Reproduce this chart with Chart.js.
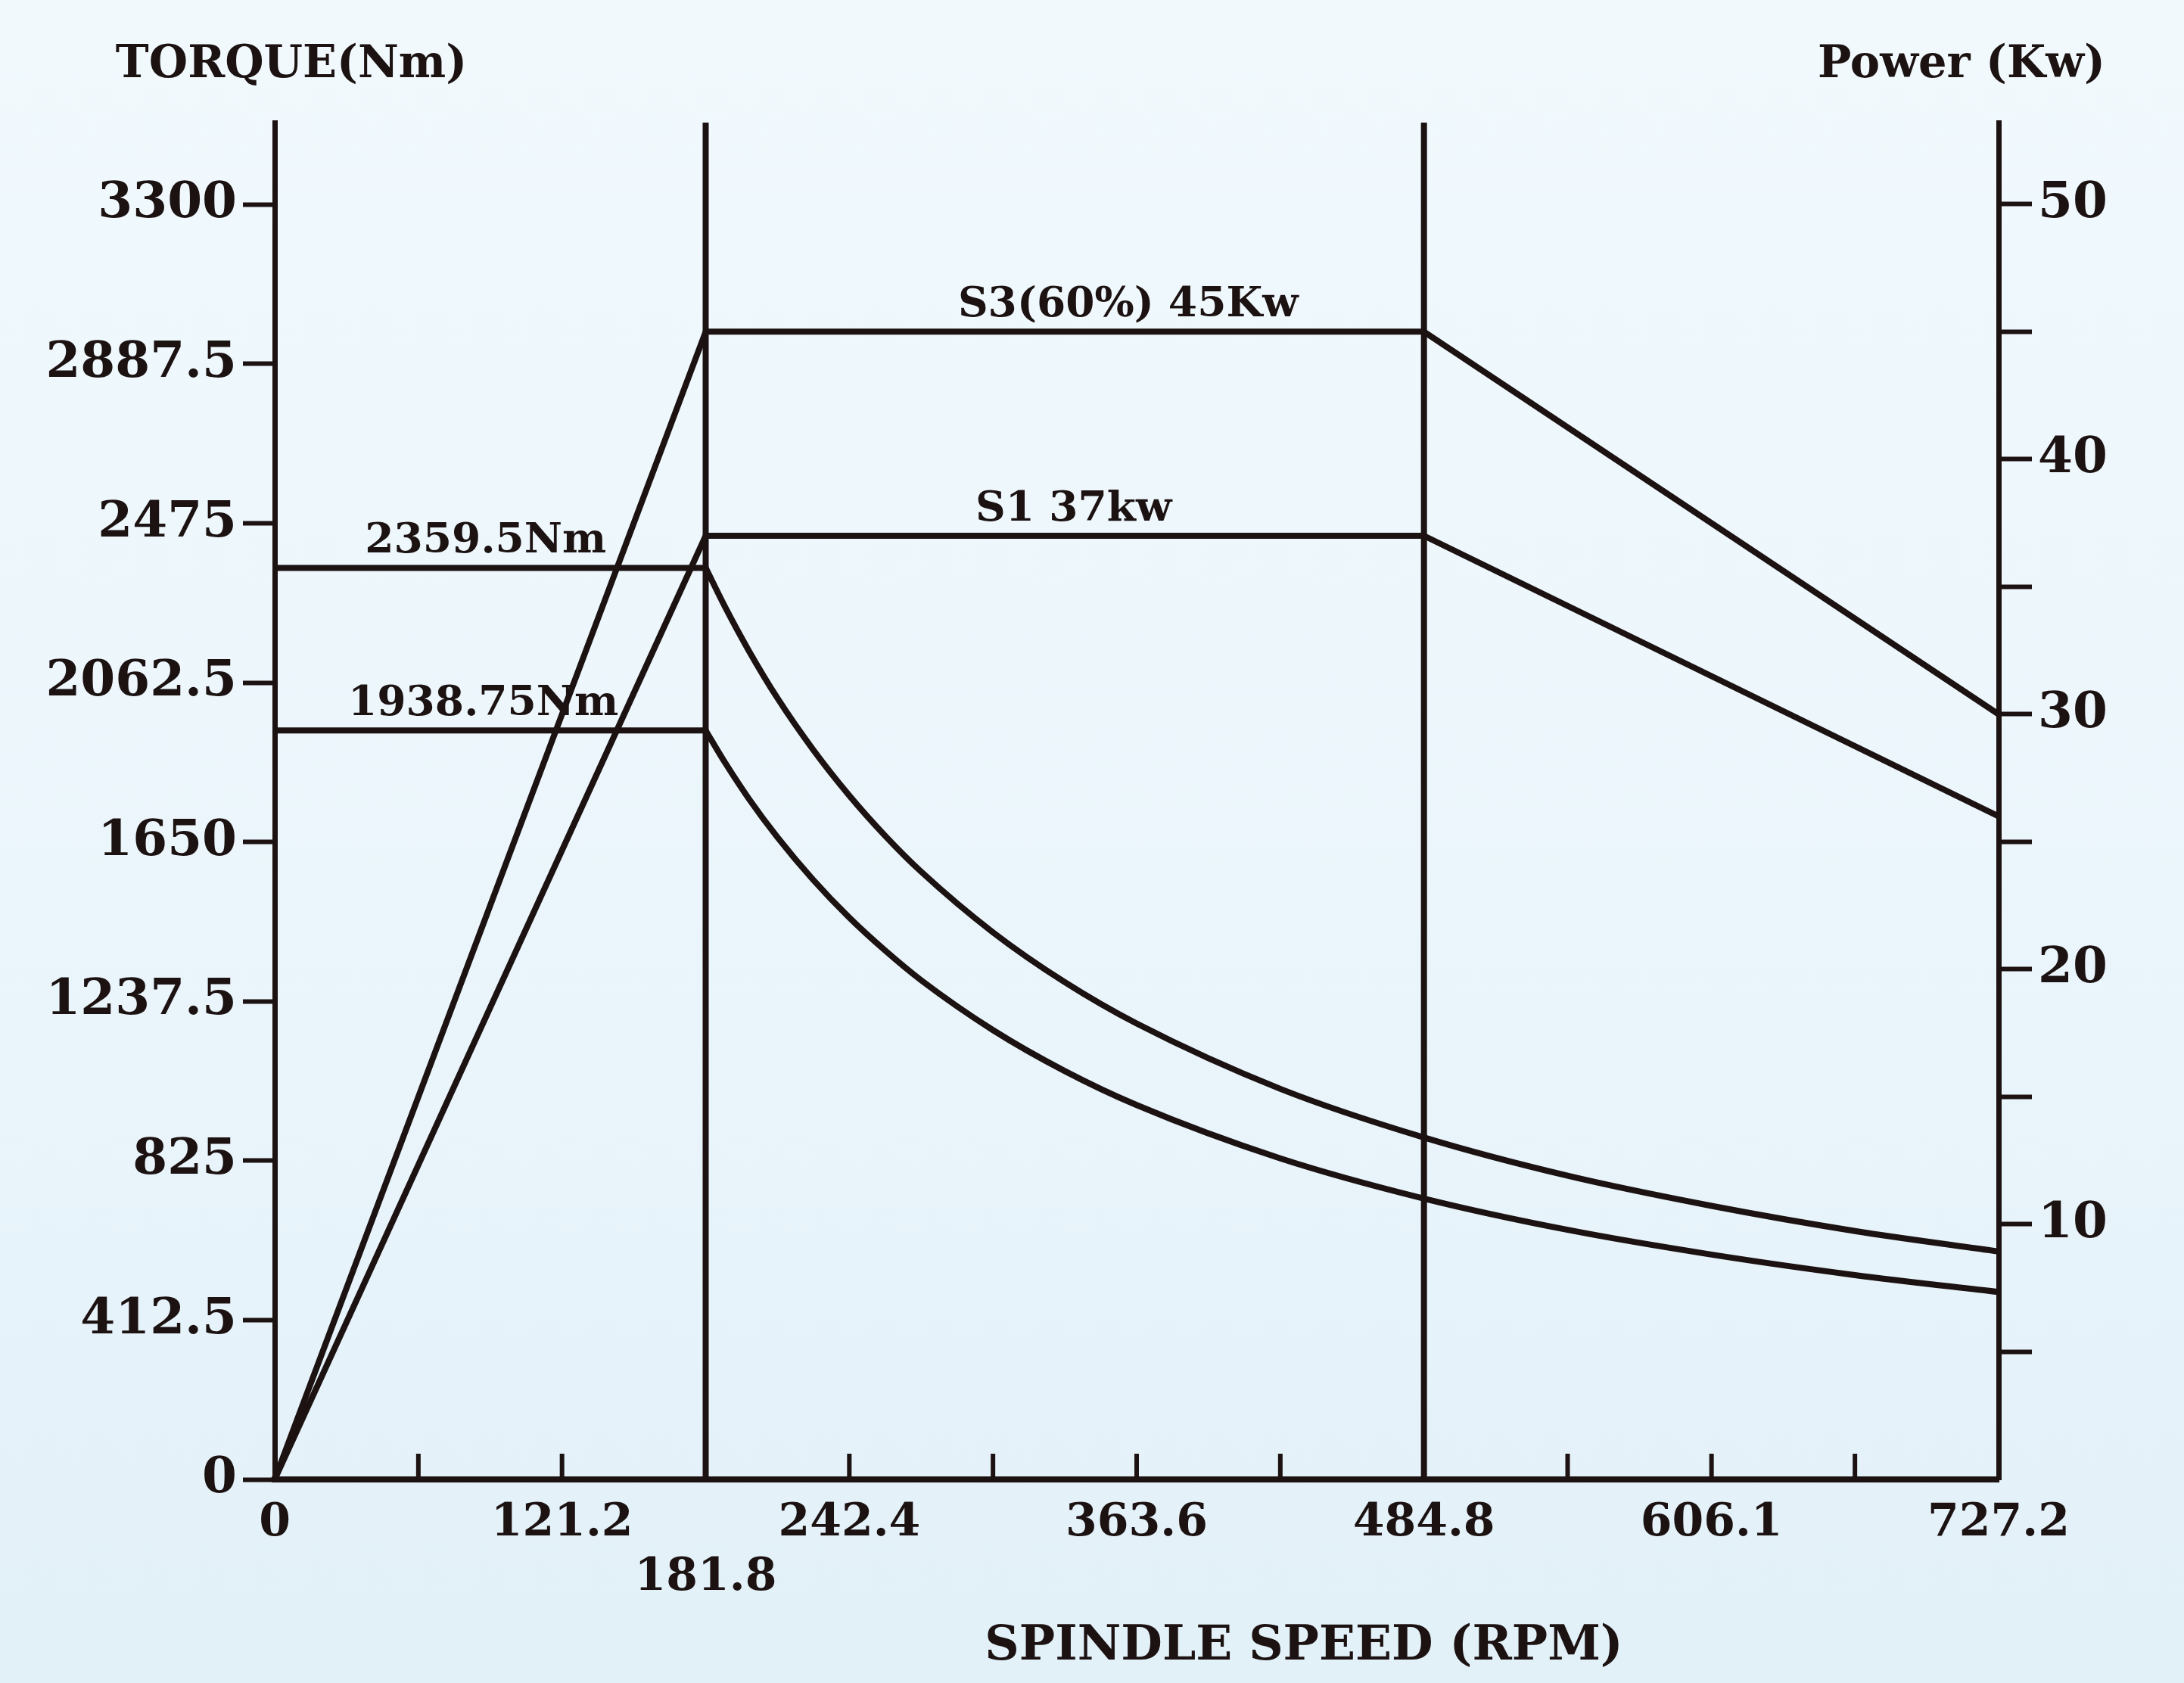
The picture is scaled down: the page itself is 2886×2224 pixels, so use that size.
<!DOCTYPE html>
<html>
<head>
<meta charset="utf-8">
<script src="https://cdn.jsdelivr.net/npm/chart.js@4.4.0/dist/chart.umd.min.js"></script>
<style>
html, body { margin: 0; padding: 0; }
body { width: 2886px; height: 2224px; background: linear-gradient(180deg, #f1f9fd 0%, #eaf5fb 60%, #e2f0f8 100%); }
canvas { display: block; }
</style>
</head>
<body>
<canvas id="torqueChart" width="2886" height="2224"></canvas>
<script>
// axis ticks
var speedTicks = [0, 60.6, 121.2, 181.8, 242.4, 303, 363.6, 424.2, 484.8, 545.4, 606.1, 666.6, 727.2];
var speedLabels = ['0', '', '121.2', ['', '181.8'], '242.4', '', '363.6', '', '484.8', '', '606.1', '', '727.2'];
var torqueTicks = [0, 412.5, 825, 1237.5, 1650, 2062.5, 2475, 2887.5, 3300];
var torqueLabels = ['0', '412.5', '825', '1237.5', '1650', '2062.5', '2475', '2887.5', '3300'];
var powerTicks = [5, 10, 15, 20, 25, 30, 35, 40, 45, 50];
var powerLabels = ['', '10', '', '20', '', '30', '', '40', '', '50'];
var torqueMax = 3512;
var powerMax = 53.2;

// power curves (kW)
var powerSpeed = [0, 181.8, 484.8, 727.2];
var powerS3 = [0, 45, 45, 30];
var powerS1 = [0, 37, 37, 26];

// torque curves (Nm)
var flatSpeed = [0, 181.8];
var torqueS3Flat = [2359.5, 2359.5];
var torqueS1Flat = [1938.75, 1938.75];
var curveSpeed = [181.8, 190, 200, 212.1, 227, 242.4, 257.5, 272.7, 303, 333.3, 363.6, 424.2, 484.8, 545.4, 606.1, 666.6, 727.2];
var torqueS3Curve = [2359.5, 2258, 2145, 2022, 1890, 1770, 1666, 1573, 1416, 1287, 1180, 1011, 885, 786, 708, 643, 590];
var torqueS1Curve = [1938.75, 1855, 1762, 1662, 1553, 1454, 1369, 1292, 1163, 1057, 969, 831, 727, 646, 582, 529, 485];

// vertical marker lines
var markerSpeed = [181.8, 484.8];

// notes over the lines
var notes = ['S3(60%) 45Kw', 'S1 37kw', '2359.5Nm', '1938.75Nm'];
var noteSpeed = [360, 337, 89, 88];
var noteValue = [45, 37, 2359.5, 1938.75];
var noteAxis = ['y1', 'y1', 'y', 'y'];

var ink = '#1c1212';
var font = '"DejaVu Serif", serif';

function toPoints(xs, ys) {
    return xs.map(function (x, i) { return { x: x, y: ys[i] }; });
}

function lineSet(data, axis, tension) {
    return {
        data: data,
        yAxisID: axis,
        borderColor: ink,
        borderWidth: 8,
        pointRadius: 0,
        fill: false,
        tension: tension || 0,
        cubicInterpolationMode: tension ? 'monotone' : 'default',
        borderCapStyle: 'round',
        borderJoinStyle: 'round'
    };
}

var datasets = [
    lineSet(toPoints(powerSpeed, powerS3), 'y1'),
    lineSet(toPoints(powerSpeed, powerS1), 'y1'),
    lineSet(toPoints(flatSpeed, torqueS3Flat), 'y'),
    lineSet(toPoints(flatSpeed, torqueS1Flat), 'y'),
    lineSet(toPoints(curveSpeed, torqueS3Curve), 'y', 0.4),
    lineSet(toPoints(curveSpeed, torqueS1Curve), 'y', 0.4)
];
markerSpeed.forEach(function (s) {
    datasets.push(lineSet([{ x: s, y: 0 }, { x: s, y: torqueMax }], 'y'));
});

var overlay = {
    id: 'overlay',
    afterDatasetsDraw: function (chart) {
        var ctx = chart.ctx;
        var xs = chart.scales.x;
        var area = chart.chartArea;
        ctx.save();
        // inward ticks on the speed axis
        ctx.strokeStyle = ink;
        ctx.lineWidth = 6;
        speedTicks.forEach(function (v) {
            var px = xs.getPixelForValue(v);
            ctx.beginPath();
            ctx.moveTo(px, area.bottom);
            ctx.lineTo(px, area.bottom - 34);
            ctx.stroke();
        });
        ctx.fillStyle = ink;
        ctx.textAlign = 'center';
        ctx.textBaseline = 'alphabetic';
        ctx.font = 'bold 55px ' + font;
        notes.forEach(function (t, i) {
            var sc = chart.scales[noteAxis[i]];
            ctx.fillText(t, xs.getPixelForValue(noteSpeed[i]), sc.getPixelForValue(noteValue[i]) - 20);
        });
        ctx.textBaseline = 'middle';
        ctx.font = 'bold 59px ' + font;
        ctx.fillText('TORQUE(Nm)', 385, 87);
        ctx.fillText('Power (Kw)', 2592, 87);
        ctx.font = 'bold 63px ' + font;
        ctx.fillText('SPINDLE SPEED (RPM)', 1723, 2177);
        ctx.restore();
    }
};

var xFont = { family: font, size: 60, weight: 'bold' };
var yFont = { family: font, size: 66, weight: 'bold' };

var ctx = document.getElementById('torqueChart').getContext('2d');
var torqueChart = new Chart(ctx, {
    type: 'line',
    data: { datasets: datasets },
    plugins: [overlay],
    options: {
        responsive: false,
        devicePixelRatio: 1,
        animation: false,
        layout: { padding: { top: 162, right: 0, bottom: 0, left: 0 } },
        plugins: {
            legend: { display: false },
            tooltip: { enabled: false }
        },
        scales: {
            x: {
                type: 'linear',
                min: 0,
                max: 727.2,
                afterBuildTicks: function (scale) {
                    scale.ticks = speedTicks.map(function (v) { return { value: v }; });
                },
                afterFit: function (scale) { scale.height = 269; },
                ticks: {
                    autoSkip: false,
                    maxRotation: 0,
                    padding: 22,
                    color: ink,
                    font: xFont,
                    callback: function (value, index) { return speedLabels[index]; }
                },
                grid: { display: true, drawOnChartArea: false, drawTicks: false },
                border: { display: true, color: ink, width: 8 }
            },
            y: {
                type: 'linear',
                position: 'left',
                min: 0,
                max: torqueMax,
                afterBuildTicks: function (scale) {
                    scale.ticks = torqueTicks.map(function (v) { return { value: v }; });
                },
                afterFit: function (scale) { scale.width = 363; },
                ticks: {
                    autoSkip: false,
                    padding: 8,
                    color: ink,
                    font: yFont,
                    callback: function (value, index) { return torqueLabels[index]; }
                },
                grid: { drawOnChartArea: false, drawTicks: true, tickLength: 42, tickWidth: 6, color: ink },
                border: { display: true, color: ink, width: 7 }
            },
            y1: {
                type: 'linear',
                position: 'right',
                min: 0,
                max: powerMax,
                afterBuildTicks: function (scale) {
                    scale.ticks = powerTicks.map(function (v) { return { value: v }; });
                },
                afterFit: function (scale) { scale.width = 245; },
                ticks: {
                    autoSkip: false,
                    padding: 8,
                    color: ink,
                    font: yFont,
                    callback: function (value, index) { return powerLabels[index]; }
                },
                grid: { drawOnChartArea: false, drawTicks: true, tickLength: 44, tickWidth: 6, color: ink },
                border: { display: true, color: ink, width: 7 }
            }
        }
    }
});
</script>
</body>
</html>
